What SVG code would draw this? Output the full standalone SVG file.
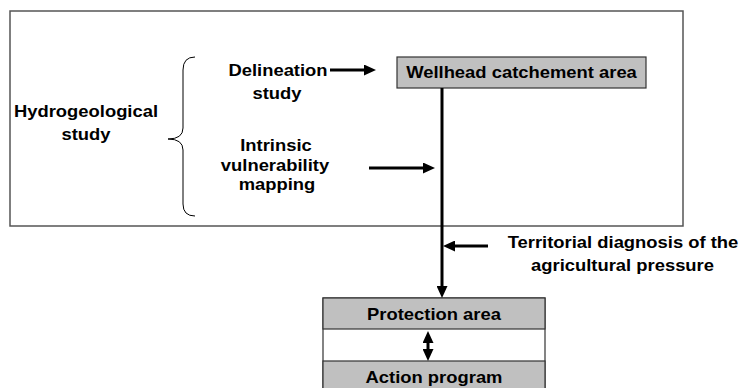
<svg xmlns="http://www.w3.org/2000/svg" width="743" height="388" viewBox="0 0 743 388">
<style>
.t{font-family:"Liberation Sans",Arial,sans-serif;font-weight:bold;font-size:16px;fill:#000;text-anchor:middle}
.box{fill:#c0c0c0;stroke:#333;stroke-width:1.2}
.conn{stroke:#000;stroke-width:3;fill:none}
</style>
<defs>
<marker id="ah" markerUnits="userSpaceOnUse" markerWidth="12" markerHeight="11" refX="6" refY="5.5" orient="auto-start-reverse">
<path d="M0,0 L12,5.5 L0,11 z" fill="#000"/>
</marker>
</defs>
<rect id="frame" x="10" y="11" width="673" height="215" fill="#fff" stroke="#555" stroke-width="1.5"/>
<g id="hydro">
<text class="t" transform="translate(86,117) scale(1.15,1)">Hydrogeological</text>
<text class="t" transform="translate(86,140) scale(1.15,1)">study</text>
<path d="M195,57 Q183,57 183,70 L183,128 Q183,139 168,139 Q183,139 183,150 L183,204 Q183,216 195,216" fill="none" stroke="#000" stroke-width="1"/>
</g>
<g id="delineation">
<text class="t" transform="translate(278,76) scale(1.15,1)">Delineation</text>
<text class="t" transform="translate(277,99) scale(1.15,1)">study</text>
</g>
<g id="intrinsic">
<text class="t" transform="translate(276,151) scale(1.15,1)">Intrinsic</text>
<text class="t" transform="translate(275,171) scale(1.15,1)">vulnerability</text>
<text class="t" transform="translate(277,190) scale(1.15,1)">mapping</text>
</g>
<g id="wellhead">
<rect class="box" x="397" y="57" width="249" height="31"/>
<text class="t" transform="translate(521.5,78) scale(1.15,1)">Wellhead catchement area</text>
</g>
<g id="territorial">
<text class="t" transform="translate(623,248) scale(1.15,1)">Territorial diagnosis of the</text>
<text class="t" transform="translate(622.5,271) scale(1.15,1)">agricultural pressure</text>
</g>
<g id="protection">
<rect x="323" y="298" width="222" height="95" fill="#fff" stroke="#333" stroke-width="1.2"/>
<rect class="box" x="323" y="298" width="222" height="31"/>
<text class="t" transform="translate(434,320) scale(1.15,1)">Protection area</text>
</g>
<g id="action">
<rect class="box" x="323" y="361" width="222" height="32"/>
<text class="t" transform="translate(434,383) scale(1.15,1)">Action program</text>
</g>
<g id="connectors">
<line class="conn" x1="330" y1="70" x2="370" y2="70" marker-end="url(#ah)"/>
<line class="conn" x1="369" y1="168" x2="429" y2="168" marker-end="url(#ah)"/>
<line class="conn" x1="442" y1="88" x2="442" y2="292" marker-end="url(#ah)"/>
<line class="conn" x1="488" y1="246" x2="449" y2="246" marker-end="url(#ah)"/>
<line class="conn" x1="428" y1="337" x2="428" y2="355" marker-start="url(#ah)" marker-end="url(#ah)"/>
</g>
</svg>
